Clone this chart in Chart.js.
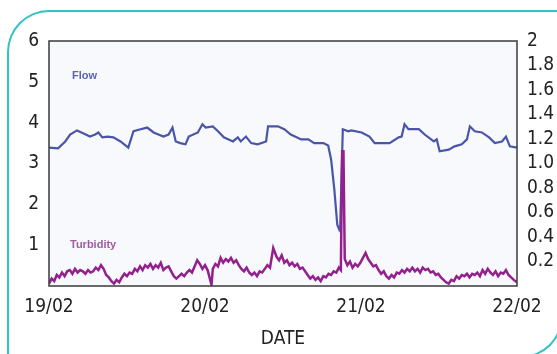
<!DOCTYPE html>
<html>
<head>
<meta charset="utf-8">
<script src="https://cdn.jsdelivr.net/npm/chart.js@4.4.1/dist/chart.umd.min.js"></script>
<style>
  html, body { margin: 0; padding: 0; background: #fff; overflow: hidden; }
  #wrap { position: relative; width: 557px; height: 354px; overflow: hidden; }
  #frameA {
    position: absolute; left: 7px; top: 10px; width: 620px; height: 420px;
    border-top: 2px solid #33c3c3; border-left: 2px solid #33c3c3;
    border-top-left-radius: 42px; pointer-events: none;
  }
  #frameB {
    position: absolute; left: 0; top: 0; width: 563px; height: 358px;
    border-right: 2px solid #33c3c3; border-bottom: 2px solid #33c3c3;
    border-bottom-right-radius: 42px; box-sizing: border-box; pointer-events: none;
  }
</style>
</head>
<body>
<div id="wrap">
  <canvas id="chart" width="557" height="354"></canvas>
  <div id="frameA"></div>
  <div id="frameB"></div>
</div>
<script>
// axis labels
var dateLabels = ['19/02', '20/02', '21/02', '22/02'];

// Flow (left axis), hours since 19/02 00:00
var flowHours = [0, 1.4, 2.5, 3.25, 4.3, 5.25, 6.3, 7.1, 7.6, 8.2, 9.0, 9.9, 11.0, 12.2, 13.0, 14.1, 15.1, 16.1, 17.6, 18.4,
    19.0, 19.5, 20.2, 21.0, 21.5, 22.9, 23.6, 24.1, 25.2, 26.0, 26.9, 28.3, 29.05, 29.5, 30.3, 31.1, 32.1, 33.4, 33.7, 35.2,
    36.2, 37.2, 38.8, 39.9, 40.8, 42.2, 42.95, 43.4, 43.9, 44.35, 44.65, 44.8, 45.2, 46.05, 46.5, 48.1, 49.3, 50.1, 51.15, 52.4,
    53.8, 54.25, 54.7, 55.3, 56.9, 57.8, 59.2, 59.65, 60.1, 61.5, 62.4, 63.5, 64.3, 64.75, 65.5, 66.6, 67.7, 68.6, 69.7, 70.3,
    70.9, 72];
var flowValues = [3.39, 3.37, 3.54, 3.71, 3.81, 3.74, 3.66, 3.71, 3.76, 3.64, 3.66, 3.64, 3.54, 3.39, 3.79, 3.84, 3.88, 3.76, 3.66, 3.71,
    3.88, 3.54, 3.50, 3.47, 3.66, 3.76, 3.96, 3.88, 3.91, 3.79, 3.64, 3.54, 3.64, 3.54, 3.66, 3.50, 3.47, 3.54, 3.91, 3.91,
    3.84, 3.71, 3.59, 3.59, 3.50, 3.50, 3.44, 3.10, 2.36, 1.50, 1.38, 1.45, 3.84, 3.79, 3.81, 3.76, 3.66, 3.50, 3.50, 3.50,
    3.64, 3.66, 3.96, 3.84, 3.84, 3.71, 3.54, 3.59, 3.30, 3.34, 3.42, 3.47, 3.59, 3.91, 3.79, 3.76, 3.64, 3.50, 3.54, 3.66,
    3.42, 3.39];

// Turbidity (right axis)
var turbHours = [0.0, 0.4, 0.8, 1.2, 1.6, 2.0, 2.4, 2.8, 3.2, 3.6, 4.0, 4.4, 4.8, 5.2, 5.6, 6.0, 6.4, 6.8, 7.2, 7.6,
    8.0, 8.4, 8.8, 9.2, 9.6, 10.0, 10.4, 10.8, 11.2, 11.6, 12.0, 12.4, 12.8, 13.2, 13.6, 14.0, 14.4, 14.8, 15.2, 15.6,
    16.0, 16.4, 16.8, 17.2, 17.6, 18.0, 18.4, 18.8, 19.2, 19.6, 20.0, 20.4, 20.8, 21.2, 21.6, 22.0, 22.4, 22.8, 23.2, 23.6,
    24.0, 24.4, 24.8, 25.0, 25.2, 25.6, 26.0, 26.4, 26.8, 27.2, 27.6, 28.0, 28.4, 28.8, 29.2, 29.6, 30.0, 30.4, 30.8, 31.2,
    31.6, 32.0, 32.4, 32.8, 33.2, 33.6, 34.0, 34.5, 35.0, 35.4, 35.8, 36.2, 36.6, 37.0, 37.4, 37.8, 38.2, 38.6, 39.0, 39.4,
    39.8, 40.2, 40.6, 41.0, 41.4, 41.8, 42.2, 42.6, 43.0, 43.4, 43.8, 44.2, 44.6, 44.9, 45.1, 45.3, 45.5, 45.9, 46.3, 46.7,
    47.1, 47.5, 47.9, 48.3, 48.7, 49.1, 49.5, 49.9, 50.3, 50.7, 51.1, 51.5, 51.9, 52.3, 52.7, 53.1, 53.5, 53.9, 54.3, 54.7,
    55.1, 55.5, 55.9, 56.3, 56.7, 57.1, 57.5, 57.9, 58.3, 58.7, 59.1, 59.5, 59.9, 60.3, 60.7, 61.1, 61.5, 61.9, 62.3, 62.7,
    63.1, 63.5, 63.9, 64.3, 64.7, 65.1, 65.5, 65.9, 66.3, 66.7, 67.1, 67.5, 67.9, 68.3, 68.7, 69.1, 69.5, 69.9, 70.3, 70.7,
    71.1, 71.5, 72.0];
var turbValues = [0.02, 0.06, 0.04, 0.09, 0.07, 0.11, 0.08, 0.12, 0.13, 0.10, 0.14, 0.11, 0.13, 0.12, 0.10, 0.13, 0.11, 0.12, 0.15, 0.13,
    0.17, 0.14, 0.09, 0.07, 0.04, 0.02, 0.05, 0.03, 0.07, 0.10, 0.08, 0.11, 0.10, 0.14, 0.12, 0.16, 0.13, 0.17, 0.15, 0.18,
    0.14, 0.17, 0.15, 0.19, 0.13, 0.15, 0.16, 0.12, 0.08, 0.06, 0.08, 0.10, 0.08, 0.11, 0.13, 0.11, 0.16, 0.21, 0.18, 0.14,
    0.17, 0.13, 0.05, 0.01, 0.14, 0.18, 0.16, 0.23, 0.19, 0.22, 0.20, 0.23, 0.19, 0.21, 0.17, 0.14, 0.12, 0.15, 0.11, 0.09,
    0.11, 0.08, 0.12, 0.11, 0.14, 0.17, 0.15, 0.31, 0.24, 0.21, 0.25, 0.19, 0.21, 0.17, 0.19, 0.16, 0.18, 0.14, 0.15, 0.12,
    0.09, 0.06, 0.08, 0.05, 0.07, 0.04, 0.08, 0.07, 0.10, 0.09, 0.12, 0.11, 0.15, 0.13, 1.10, 1.10, 0.22, 0.17, 0.20, 0.15,
    0.18, 0.16, 0.19, 0.23, 0.27, 0.22, 0.19, 0.16, 0.17, 0.13, 0.10, 0.12, 0.08, 0.06, 0.09, 0.07, 0.11, 0.10, 0.13, 0.11,
    0.14, 0.12, 0.15, 0.12, 0.14, 0.11, 0.15, 0.13, 0.14, 0.11, 0.12, 0.09, 0.10, 0.07, 0.05, 0.03, 0.02, 0.05, 0.04, 0.08,
    0.06, 0.09, 0.08, 0.10, 0.07, 0.10, 0.09, 0.11, 0.08, 0.13, 0.10, 0.14, 0.11, 0.09, 0.12, 0.08, 0.11, 0.10, 0.13, 0.09,
    0.07, 0.05, 0.03];

var leftTicks = [1, 2, 3, 4, 5, 6];
var rightTicks = [0.2, 0.4, 0.6, 0.8, 1.0, 1.2, 1.4, 1.6, 1.8, 2];

function toPoints(xs, ys) {
    return xs.map(function (x, i) { return { x: x, y: ys[i] }; });
}

var axisFont = { family: "'Liberation Sans Narrow', 'DejaVu Sans Condensed', sans-serif", size: 19 };

// plot background, border and in-plot labels
var plotDeco = {
    id: 'plotDeco',
    beforeDatasetsDraw: function (chart) {
        var a = chart.chartArea, ctx = chart.ctx;
        ctx.save();
        ctx.fillStyle = '#f7f9fc';
        ctx.fillRect(a.left, a.top, a.right - a.left, a.bottom - a.top);
        ctx.restore();
    },
    afterDatasetsDraw: function (chart) {
        var a = chart.chartArea, ctx = chart.ctx;
        ctx.save();
        ctx.strokeStyle = '#3a3a3a';
        ctx.lineWidth = 1.5;
        ctx.strokeRect(a.left, a.top, a.right - a.left, a.bottom - a.top);
        ctx.font = 'bold 11px Arial, "Liberation Sans", sans-serif';
        ctx.textBaseline = 'middle';
        ctx.fillStyle = '#5b63b2';
        ctx.fillText('Flow', a.left + 23, 76);
        ctx.fillStyle = '#a25ba3';
        ctx.fillText('Turbidity', a.left + 21, 245);
        ctx.restore();
    }
};

var ctx = document.getElementById('chart');
var chart = new Chart(ctx, {
    type: 'line',
    data: {
        datasets: [{
            label: 'Turbidity',
            data: toPoints(turbHours, turbValues),
            yAxisID: 'yR',
            borderColor: '#94208e',
            borderWidth: 2.5,
            pointRadius: 0,
            tension: 0
        }, {
            label: 'Flow',
            data: toPoints(flowHours, flowValues),
            yAxisID: 'yL',
            borderColor: '#4a55a8',
            borderWidth: 2.2,
            pointRadius: 0,
            tension: 0
        }]
    },
    options: {
        responsive: false,
        animation: false,
        layout: { padding: { top: 41, left: 0, right: 0, bottom: 0 } },
        plugins: { legend: { display: false }, tooltip: { enabled: false } },
        scales: {
            x: {
                type: 'linear', min: 0, max: 72,
                grid: { display: false, drawTicks: false },
                border: { display: false },
                afterBuildTicks: function (s) {
                    s.ticks = dateLabels.map(function (l, i) { return { value: i * 24 }; });
                },
                ticks: {
                    padding: 10, color: '#222', font: axisFont, maxRotation: 0,
                    callback: function (v) { return dateLabels[Math.round(v / 24)]; }
                },
                title: { display: true, text: 'DATE', color: '#222', font: axisFont, padding: { top: 8 } },
                afterFit: function (s) { s.height = 68; }
            },
            yL: {
                position: 'left', min: 0, max: 6,
                grid: { display: false, drawTicks: false },
                border: { display: false },
                afterBuildTicks: function (s) {
                    s.ticks = leftTicks.map(function (v) { return { value: v }; });
                },
                ticks: { padding: 10, color: '#222', font: axisFont },
                afterFit: function (s) { s.width = 49; }
            },
            yR: {
                position: 'right', min: 0, max: 2,
                grid: { display: false, drawTicks: false },
                border: { display: false },
                afterBuildTicks: function (s) {
                    s.ticks = rightTicks.map(function (v) { return { value: v }; });
                },
                ticks: {
                    padding: 10, color: '#222', font: axisFont,
                    callback: function (v) { return v === 2 ? '2' : v.toFixed(1); }
                },
                afterFit: function (s) { s.width = 40; }
            }
        }
    },
    plugins: [plotDeco]
});
</script>
</body>
</html>
